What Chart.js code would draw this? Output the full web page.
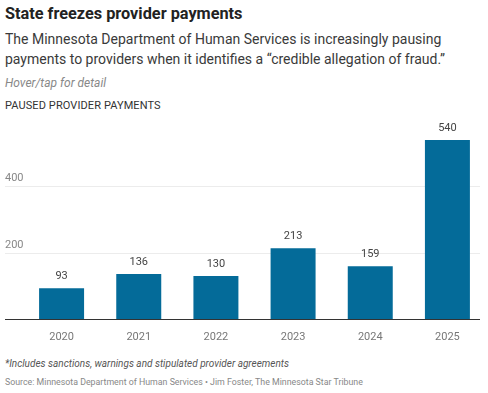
<!DOCTYPE html>
<html>
<head>
<meta charset="utf-8">
<script src="https://cdn.jsdelivr.net/npm/chart.js@4"></script>
<style>
  body { margin: 0; background: #fff; font-family: Roboto, "Noto Sans", sans-serif; }
  #wrap { position: relative; width: 488px; height: 393px; overflow: hidden; }
  .t { position: absolute; left: 5px; white-space: nowrap; }
  #title { top: 4px; font-size: 16.3px; font-weight: 700; color: #222; }
  #sub { top: 29px; font-size: 14px; line-height: 20px; color: #3a3a3a; }
  #hover { top: 76px; font-size: 12px; font-style: italic; color: #888; }
  #label { top: 99px; font-size: 11px; color: #333; letter-spacing: 0.1px; }
  #note { top: 358px; font-size: 10px; font-style: italic; color: #555; }
  #src { top: 377px; font-size: 8.8px; color: #888; }
  #box { position: absolute; left: 0; top: 112px; width: 488px; height: 234px; }
</style>
</head>
<body>
<div id="wrap">
  <div class="t" id="title">State freezes provider payments</div>
  <div class="t" id="sub">The Minnesota Department of Human Services is increasingly pausing<br>payments to providers when it identifies a “credible allegation of fraud.”</div>
  <div class="t" id="hover">Hover/tap for detail</div>
  <div class="t" id="label">PAUSED PROVIDER PAYMENTS</div>
  <div id="box"><canvas id="c"></canvas></div>
  <div class="t" id="note">*Includes sanctions, warnings and stipulated provider agreements</div>
  <div class="t" id="src">Source: Minnesota Department of Human Services • Jim Foster, The Minnesota Star Tribune</div>
</div>
<script>
const years = ['2020', '2021', '2022', '2023', '2024', '2025'];
const paused = [93, 136, 130, 213, 159, 540];
const yTicks = [200, 400];

const BAR = '#046b99';

// gridlines + tick labels sitting above the lines, spanning from the y box left edge
const gridPlugin = {
  id: 'grid',
  beforeDatasetsDraw(chart) {
    const { ctx, chartArea, scales } = chart;
    const y = scales.y;
    const x0 = y.left;
    const x1 = chartArea.right - 6;
    ctx.save();
    ctx.font = '11px Roboto, sans-serif';
    ctx.textBaseline = 'bottom';
    ctx.textAlign = 'left';
    yTicks.forEach(v => {
      const py = Math.round(y.getPixelForValue(v)) + 0.5;
      ctx.strokeStyle = '#ececec';
      ctx.lineWidth = 1;
      ctx.beginPath(); ctx.moveTo(x0, py); ctx.lineTo(x1, py); ctx.stroke();
      ctx.fillStyle = '#888';
      ctx.fillText(v, x0, py - 3);
    });
    const pb = Math.round(y.getPixelForValue(0)) + 0.5;
    ctx.strokeStyle = '#333';
    ctx.beginPath(); ctx.moveTo(x0, pb); ctx.lineTo(x1, pb); ctx.stroke();
    ctx.restore();
  },
  afterDatasetsDraw(chart) {
    const { ctx } = chart;
    const meta = chart.getDatasetMeta(0);
    ctx.save();
    ctx.font = '11px Roboto, sans-serif';
    ctx.fillStyle = '#444';
    ctx.textAlign = 'center';
    ctx.textBaseline = 'middle';
    meta.data.forEach((bar, i) => {
      ctx.fillText(paused[i], bar.x, bar.y - 12);
    });
    ctx.restore();
  },
};

new Chart(document.getElementById('c'), {
  type: 'bar',
  data: {
    labels: years,
    datasets: [{
      data: paused,
      backgroundColor: BAR,
      borderWidth: 0,
      barPercentage: 0.583,
      categoryPercentage: 1,
    }],
  },
  options: {
    responsive: true,
    maintainAspectRatio: false,
    animation: false,
    layout: { padding: { left: 5, right: 2, top: 8, bottom: 0 } },
    plugins: { legend: { display: false }, tooltip: { enabled: true } },
    scales: {
      x: {
        grid: { display: false },
        border: { display: false },
        ticks: { color: '#777', font: { size: 11, family: 'Roboto' }, padding: 4 },
        afterFit: s => { s.height = 27; },
      },
      y: {
        min: 0,
        max: 600,
        grid: { display: false },
        border: { display: false },
        ticks: { display: false },
        afterFit: s => { s.width = 18; },
      },
    },
  },
  plugins: [gridPlugin],
});
</script>
</body>
</html>
